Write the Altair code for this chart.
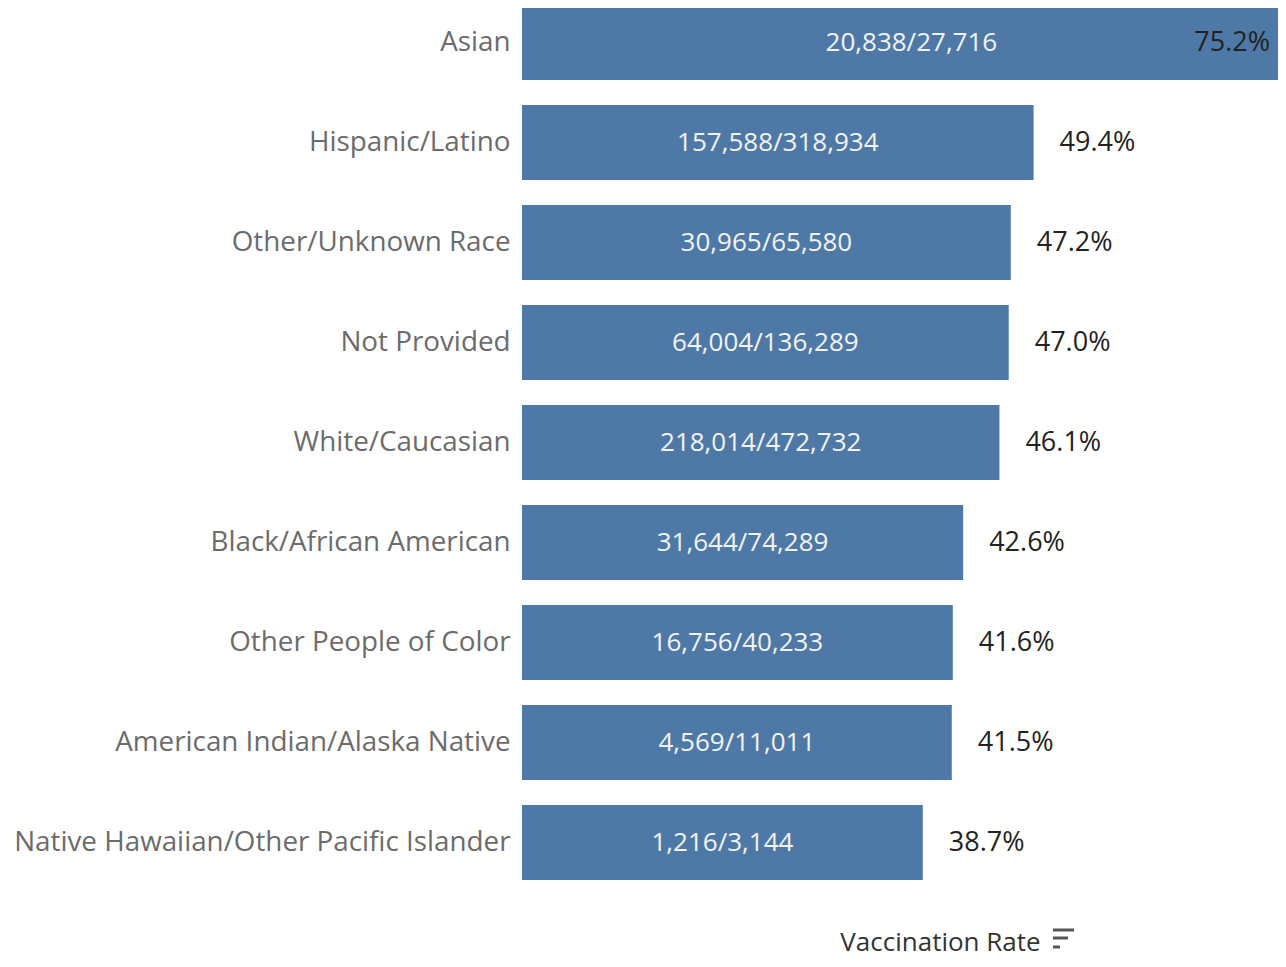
import altair as alt
import pandas as pd

groups = ["Asian", "Hispanic/Latino", "Other/Unknown Race", "Not Provided",
          "White/Caucasian", "Black/African American", "Other People of Color",
          "American Indian/Alaska Native", "Native Hawaiian/Other Pacific Islander"]
vaccinated = [20838, 157588, 30965, 64004, 218014, 31644, 16756, 4569, 1216]
population = [27716, 318934, 65580, 136289, 472732, 74289, 40233, 11011, 3144]
rate_pct = [75.2, 49.4, 47.2, 47.0, 46.1, 42.6, 41.6, 41.5, 38.7]

XMAX = 73.0
FONT = "Open Sans"

df = pd.DataFrame({"group": groups, "num": vaccinated, "den": population, "pct": rate_pct})

base = alt.Chart(df).transform_calculate(
    half="datum.pct / 2",
    cnt="format(datum.num, ',') + '/' + format(datum.den, ',')",
    plab="format(datum.pct, '.1f') + '%'",
    pin=f"min(datum.pct, {XMAX})",
)

y = alt.Y("group:N", sort=groups,
          scale=alt.Scale(paddingInner=0.25, paddingOuter=0),
          axis=alt.Axis(title=None, domain=False, ticks=False, labelFontSize=27.8,
                        labelColor="#6b6b6b", labelPadding=12, labelFont=FONT,
                        labelLimit=600))

xscale = alt.Scale(domain=[0, XMAX], nice=False, zero=True)

bars = base.mark_bar(color="#4e79a7", clip=True).encode(
    x=alt.X("pct:Q", scale=xscale,
            axis=alt.Axis(labels=False, ticks=False, domain=False, grid=False,
                          title="Vaccination Rate", titleFontSize=26, titleFont=FONT,
                          titleFontWeight="normal", titleColor="#333333",
                          titleX=418, titleY=70, titleBaseline="alphabetic",
                          titleAlign="center")),
    y=y,
)

counts = base.mark_text(color="#f3f3f3", fontSize=26, font=FONT, align="center",
                        baseline="middle").encode(
    x=alt.X("half:Q", scale=xscale), y=y, text="cnt:N")

outside = base.transform_filter(f"datum.pct <= {XMAX}").mark_text(
    color="#222222", fontSize=27, font=FONT, align="left", baseline="middle", dx=26
).encode(x=alt.X("pct:Q", scale=xscale), y=y, text="plab:N")

inside = base.transform_filter(f"datum.pct > {XMAX}").mark_text(
    color="#222222", fontSize=27, font=FONT, align="right", baseline="middle", dx=-8
).encode(x=alt.X("pin:Q", scale=xscale), y=y, text="plab:N")

icon_df = pd.DataFrame({"k": [0]})
icon1 = alt.Chart(icon_df).mark_rule(color="#555555", strokeWidth=3).encode(
    x=alt.value(531), x2=alt.value(552), y=alt.value(925))
icon2 = alt.Chart(icon_df).mark_rule(color="#555555", strokeWidth=3).encode(
    x=alt.value(531), x2=alt.value(546), y=alt.value(933))
icon3 = alt.Chart(icon_df).mark_rule(color="#555555", strokeWidth=3).encode(
    x=alt.value(531), x2=alt.value(538), y=alt.value(942))

chart = alt.layer(bars, counts, outside, inside, icon1, icon2, icon3).properties(
    width=756, height=875,
    background="white",
    autosize=alt.AutoSizeParams(type="none"),
    padding={"left": 514, "top": -3, "right": 0, "bottom": 79},
).configure_view(stroke=None).configure_axis(
    domain=False, grid=False, ticks=False
)

chart.save("out.html", embed_options={"renderer": "svg", "actions": False})
